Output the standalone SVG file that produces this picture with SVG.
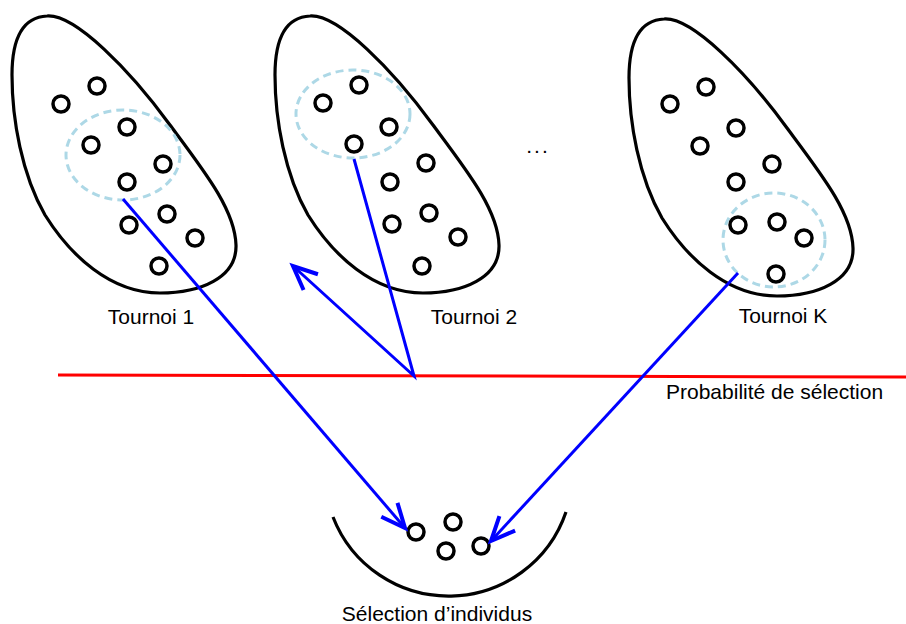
<svg xmlns="http://www.w3.org/2000/svg" width="906" height="624" viewBox="0 0 906 624">
<style>
.egg{fill:none;stroke:#000;stroke-width:3.2}
.ind{fill:#fff;stroke:#000;stroke-width:3.5}
.sel{fill:none;stroke:#add8e6;stroke-width:3;stroke-dasharray:8 5}
.blue{fill:none;stroke:#0000ff;stroke-width:3}
.lbl{font-family:"Liberation Sans",Arial,sans-serif;font-size:21px;fill:#000}
</style>
<defs>
<path id="eggShape" d="M 47,16 C 75,14 130,70 170,125 C 205,172 235,210 236,245 C 237,278 200,293 160,293 C 110,293 70,255 45,215 C 22,175 12,120 12,75 C 12,35 25,17 47,16 Z"/>
<marker id="arr" markerUnits="userSpaceOnUse" markerWidth="40" markerHeight="40" viewBox="-25 -15 30 30" refX="0" refY="0" orient="auto" overflow="visible">
<path d="M -18,-8 L 0,0 L -18,8" fill="none" stroke="#0000ff" stroke-width="3"/>
</marker>
</defs>
<rect width="906" height="624" fill="#fff"/>

<g id="tournoi1">
<use href="#eggShape" class="egg"/>
<ellipse class="sel" cx="123" cy="155" rx="57" ry="45"/>
<circle class="ind" cx="61" cy="104" r="8"/>
<circle class="ind" cx="97" cy="86" r="8"/>
<circle class="ind" cx="127" cy="127" r="8"/>
<circle class="ind" cx="91" cy="145" r="8"/>
<circle class="ind" cx="163" cy="164" r="8"/>
<circle class="ind" cx="127" cy="182" r="8"/>
<circle class="ind" cx="167" cy="214" r="8"/>
<circle class="ind" cx="129" cy="225" r="8"/>
<circle class="ind" cx="195" cy="238" r="8"/>
<circle class="ind" cx="159" cy="266" r="8"/>
<text class="lbl" x="151" y="324" text-anchor="middle">Tournoi 1</text>
</g>

<g id="tournoi2">
<use href="#eggShape" class="egg" transform="translate(263,0)"/>
<ellipse class="sel" cx="353" cy="114" rx="57" ry="44"/>
<circle class="ind" cx="323" cy="103" r="8"/>
<circle class="ind" cx="359" cy="85" r="8"/>
<circle class="ind" cx="389" cy="127" r="8"/>
<circle class="ind" cx="354" cy="144" r="8"/>
<circle class="ind" cx="426" cy="163" r="8"/>
<circle class="ind" cx="390" cy="182" r="8"/>
<circle class="ind" cx="429" cy="213" r="8"/>
<circle class="ind" cx="392" cy="224" r="8"/>
<circle class="ind" cx="458" cy="237" r="8"/>
<circle class="ind" cx="422" cy="266" r="8"/>
<text class="lbl" x="474" y="324" text-anchor="middle">Tournoi 2</text>
</g>

<g id="dots">
<text class="lbl" x="538" y="153" text-anchor="middle" letter-spacing="2">...</text>
</g>

<g id="tournoiK">
<use href="#eggShape" class="egg" transform="translate(617,3)"/>
<ellipse class="sel" cx="774" cy="240" rx="51" ry="47"/>
<circle class="ind" cx="670" cy="104" r="8"/>
<circle class="ind" cx="706" cy="87" r="8"/>
<circle class="ind" cx="736" cy="128" r="8"/>
<circle class="ind" cx="700" cy="146" r="8"/>
<circle class="ind" cx="772" cy="164" r="8"/>
<circle class="ind" cx="736" cy="182" r="8"/>
<circle class="ind" cx="738" cy="225" r="8"/>
<circle class="ind" cx="777" cy="222" r="8"/>
<circle class="ind" cx="804" cy="238" r="8"/>
<circle class="ind" cx="776" cy="274" r="8"/>
<text class="lbl" x="783" y="323" text-anchor="middle">Tournoi K</text>
</g>

<g id="probabilite">
<line x1="58" y1="375" x2="906" y2="377" stroke="#ff0000" stroke-width="3"/>
<text class="lbl" x="666" y="399">Probabilité de sélection</text>
</g>

<g id="selection">
<path d="M 333,517 A 124 124 0 0 0 566,512" fill="none" stroke="#000" stroke-width="3.2"/>
<circle class="ind" cx="416" cy="532" r="8"/>
<circle class="ind" cx="453" cy="522" r="8"/>
<circle class="ind" cx="446" cy="551" r="8"/>
<circle class="ind" cx="481" cy="546" r="8"/>
<text class="lbl" x="437" y="621" text-anchor="middle">Sélection d’individus</text>
</g>

<g id="connectors">
<line class="blue" x1="123" y1="199" x2="405" y2="528" marker-end="url(#arr)"/>
<polyline class="blue" points="354,159 414,376 293,266" marker-end="url(#arr)"/>
<line class="blue" x1="738" y1="273" x2="491" y2="541" marker-end="url(#arr)"/>
</g>
</svg>
